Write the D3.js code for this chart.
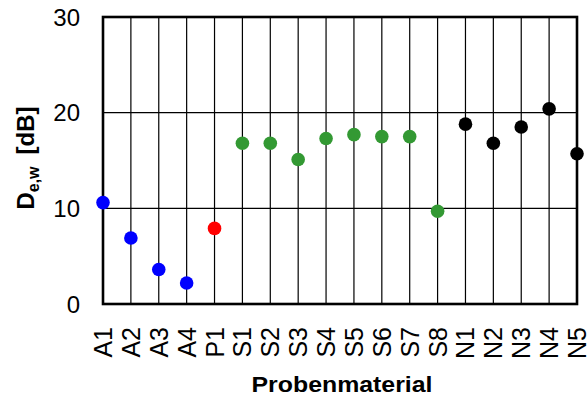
<!DOCTYPE html>
<meta charset="utf-8">
<script src="https://d3js.org/d3.v7.min.js"></script>
<style>
  body { margin: 0; background: #fff; }
  text { font-family: "Liberation Sans", Arial, sans-serif; }
</style>
<div id="chart"></div>
<script>
  // categories and values
  const categories = ["A1","A2","A3","A4","P1","S1","S2","S3","S4","S5","S6","S7","S8","N1","N2","N3","N4","N5"];
  const values = [10.6, 6.9, 3.6, 2.2, 7.9, 16.8, 16.8, 15.1, 17.3, 17.7, 17.5, 17.5, 9.7, 18.8, 16.8, 18.5, 20.4, 15.7];
  const groups = ["A","A","A","A","P","S","S","S","S","S","S","S","S","N","N","N","N","N"];
  const yTicks = [0, 10, 20, 30];

  const colors = {A: "#0000ff", P: "#ff0000", S: "#339933", N: "#000000"};

  const W = 587, H = 398;
  const margin = {top: 17, right: 10, bottom: 94, left: 103};

  const svg = d3.select("#chart").append("svg")
      .attr("width", W)
      .attr("height", H);

  const x = d3.scalePoint()
      .domain(categories)
      .range([margin.left, W - margin.right]);

  const y = d3.scaleLinear()
      .domain([0, 30])
      .range([H - margin.bottom, margin.top]);

  // vertical grid lines, one per category
  svg.append("g")
    .selectAll("line")
    .data(categories)
    .join("line")
      .attr("x1", d => x(d)).attr("x2", d => x(d))
      .attr("y1", y(30)).attr("y2", y(0))
      .attr("stroke", "#000")
      .attr("stroke-width", 1.2);

  // horizontal grid lines
  svg.append("g")
    .selectAll("line")
    .data(yTicks)
    .join("line")
      .attr("x1", x.range()[0]).attr("x2", x.range()[1])
      .attr("y1", d => y(d)).attr("y2", d => y(d))
      .attr("stroke", "#000")
      .attr("stroke-width", 1.2);

  // plot frame
  svg.append("rect")
      .attr("x", x.range()[0])
      .attr("y", y(30))
      .attr("width", x.range()[1] - x.range()[0])
      .attr("height", y(0) - y(30))
      .attr("fill", "none")
      .attr("stroke", "#000")
      .attr("stroke-width", 2.6);

  // y tick labels
  svg.append("g")
    .selectAll("text")
    .data(yTicks)
    .join("text")
      .attr("x", 80)
      .attr("y", d => y(d))
      .attr("dy", "0.36em")
      .attr("text-anchor", "end")
      .attr("font-size", 24)
      .text(d => d);

  // x tick labels, rotated
  svg.append("g")
    .selectAll("text")
    .data(categories)
    .join("text")
      .attr("transform", d => `translate(${x(d)},327) rotate(-90)`)
      .attr("dy", "0.36em")
      .attr("text-anchor", "end")
      .attr("font-size", 25)
      .text(d => d);

  // points
  svg.append("g")
    .selectAll("circle")
    .data(categories)
    .join("circle")
      .attr("cx", d => x(d))
      .attr("cy", (d, i) => y(values[i]))
      .attr("r", 6.8)
      .attr("fill", (d, i) => colors[groups[i]]);

  // axis titles
  svg.append("text")
      .attr("x", 342)
      .attr("y", 392)
      .attr("text-anchor", "middle")
      .attr("font-size", 22)
      .attr("font-weight", "bold")
      .attr("textLength", 181)
      .attr("lengthAdjust", "spacingAndGlyphs")
      .text("Probenmaterial");

  const yt = svg.append("text")
      .attr("transform", "translate(34,158) rotate(-90)")
      .attr("text-anchor", "middle")
      .attr("font-size", 24)
      .attr("font-weight", "bold");
  yt.append("tspan").text("D");
  yt.append("tspan").attr("font-size", 16).attr("dy", 5).text("e,w");
  yt.append("tspan").attr("dy", -5).attr("dx", 12).text("[dB]");
</script>
